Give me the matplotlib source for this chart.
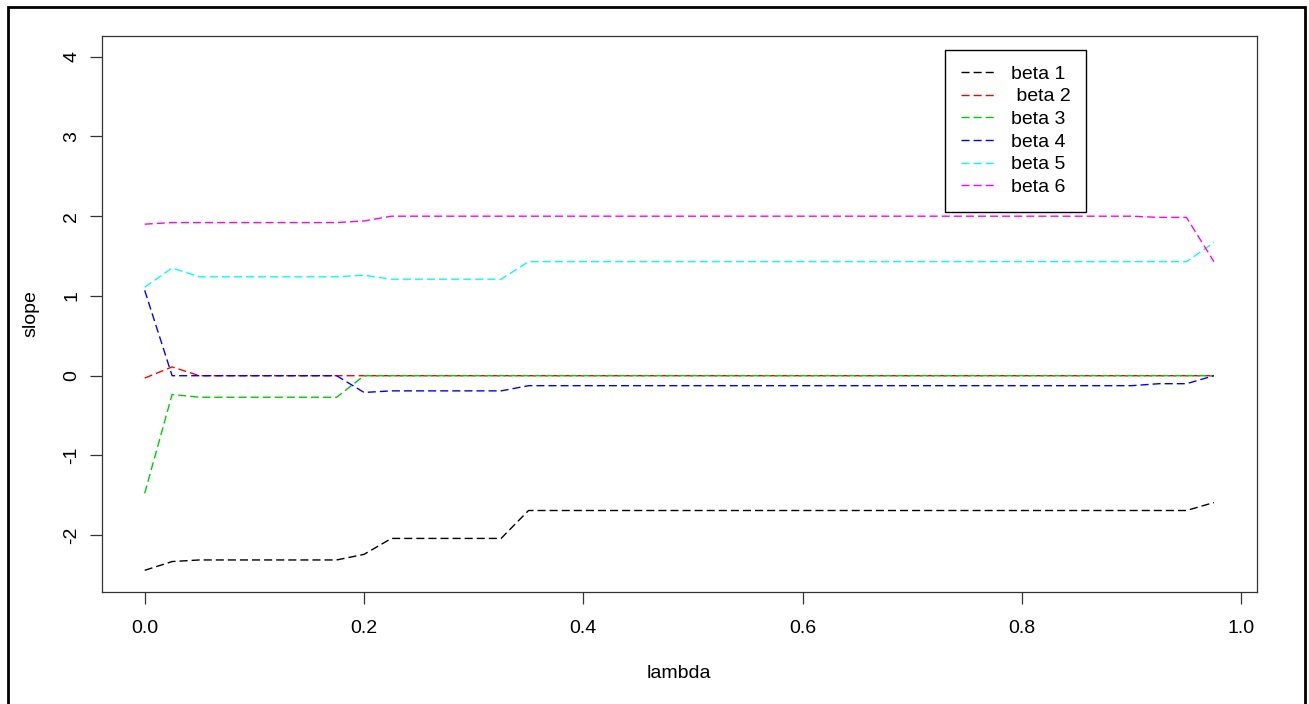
import matplotlib
matplotlib.use("Agg")
import matplotlib.pyplot as plt
from matplotlib.patches import Rectangle

plt.rcParams["font.family"] = ["Liberation Sans", "DejaVu Sans"]

# penalty grid
lam = [0.000, 0.025, 0.050, 0.075, 0.100, 0.125, 0.150, 0.175, 0.200, 0.225,
       0.250, 0.275, 0.300, 0.325, 0.350, 0.375, 0.400, 0.425, 0.450, 0.475,
       0.500, 0.525, 0.550, 0.575, 0.600, 0.625, 0.650, 0.675, 0.700, 0.725,
       0.750, 0.775, 0.800, 0.825, 0.850, 0.875, 0.900, 0.925, 0.950, 0.975]

# coefficient paths (40 values each)
beta1 = [-2.44, -2.33] + [-2.31] * 6 + [-2.24] + [-2.04] * 5 + [-1.69] * 25 + [-1.59]
beta2 = [-0.03, 0.11] + [0.0] * 38
beta3 = [-1.475, -0.235] + [-0.27] * 6 + [0.0] * 32
beta4 = [1.07] + [0.0] * 7 + [-0.21] + [-0.19] * 5 + [-0.125] * 23 + [-0.10] * 2 + [0.0]
beta5 = [1.11, 1.35] + [1.24] * 6 + [1.26] + [1.21] * 5 + [1.43] * 25 + [1.67]
beta6 = [1.90] + [1.92] * 7 + [1.94] + [2.00] * 28 + [1.985] * 2 + [1.43]

series = [beta1, beta2, beta3, beta4, beta5, beta6]
labels = ["beta 1", " beta 2", "beta 3", "beta 4", "beta 5", "beta 6"]
colors = ["#000000", "#FF0000", "#00CD00", "#0000FF", "#00FFFF", "#FF00FF"]

W, H = 1309, 704
fig = plt.figure(figsize=(W / 100, H / 100), dpi=100)
ax = fig.add_axes([101.7 / W, 1 - 591.7 / H, (1256.7 - 101.7) / W, (591.7 - 35.7) / H])

for ys, lab, col in zip(series, labels, colors):
    ax.plot(lam, ys, color=col, lw=1.0, linestyle=(0, (5.8, 2.9)), label=lab)

ax.set_xlim(-0.0392, 1.0140)
ax.set_ylim(-2.708, 4.263)
ax.set_xticks([0.0, 0.2, 0.4, 0.6, 0.8, 1.0])
ax.set_xticklabels(["0.0", "0.2", "0.4", "0.6", "0.8", "1.0"])
ax.set_yticks([-2, -1, 0, 1, 2, 3, 4])
ax.set_yticklabels(["-2", "-1", "0", "1", "2", "3", "4"], rotation=90, va="center")

ax.tick_params(axis="both", length=8.3, width=0.9, labelsize=14, color="#333333")
ax.tick_params(axis="x", pad=12)
ax.tick_params(axis="y", pad=7)
for sp in ax.spines.values():
    sp.set_linewidth(0.9)
    sp.set_color("#333333")

ax.set_xlabel("lambda", fontsize=14, labelpad=20)
ax.set_ylabel("slope", fontsize=14, labelpad=17)

leg = ax.legend(loc="upper left", bbox_to_anchor=(945 / W, 1 - 49.5 / H),
                bbox_transform=fig.transFigure, borderaxespad=0,
                fancybox=False, edgecolor="black", framealpha=1,
                fontsize=14, handlelength=1.7, handletextpad=0.87,
                labelspacing=0.26, borderpad=0.8)
leg.get_frame().set_linewidth(1.0)

# outer device border
fig.add_artist(Rectangle((8 / W, -2 / H), (1305 - 8) / W, (H - 7 + 2) / H,
                         transform=fig.transFigure, fill=False,
                         edgecolor="black", lw=2.0, clip_on=False))

fig.savefig("out.png", dpi=100)
